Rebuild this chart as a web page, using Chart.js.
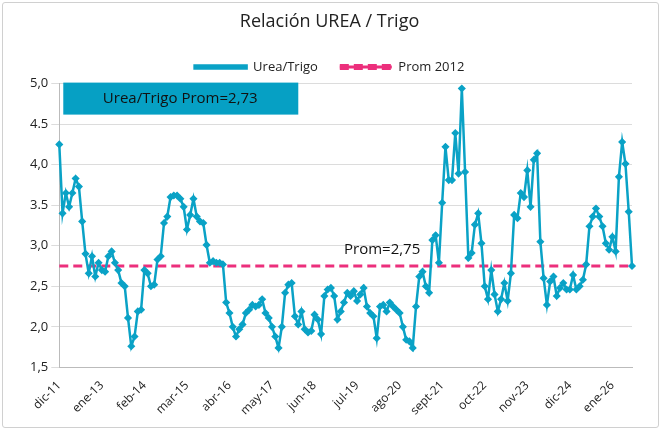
<!DOCTYPE html>
<html><head><meta charset="utf-8">
<script src="https://cdn.jsdelivr.net/npm/chart.js@4"></script>
<style>
body{margin:0;background:#fff;font-family:"Open Sans",sans-serif}
#wrap{position:absolute;left:2px;top:2px;width:655px;height:424px;border:1px solid #d0d0d0;border-radius:3px}
</style></head><body>
<div id="wrap"><canvas id="c" width="655" height="424"></canvas></div>
<script>
const tickLabels = ['dic-11','ene-13','feb-14','mar-15','abr-16','may-17','jun-18','jul-19','ago-20','sept-21','oct-22','nov-23','dic-24','ene-26'];
const ureaTrigo = [4.25,3.40,3.65,3.48,3.65,3.83,3.73,3.30,2.90,2.66,2.87,2.62,2.79,2.70,2.68,2.87,2.93,2.79,2.70,2.54,
2.50,2.11,1.76,1.88,2.19,2.21,2.70,2.66,2.50,2.52,2.83,2.87,3.28,3.36,3.60,3.62,3.62,3.58,3.48,3.20,
3.38,3.58,3.36,3.30,3.28,3.01,2.79,2.81,2.79,2.79,2.77,2.30,2.17,2.00,1.88,1.97,2.03,2.17,2.21,2.27,
2.25,2.27,2.34,2.17,2.11,2.00,1.88,1.74,2.00,2.42,2.52,2.54,2.13,2.03,2.19,1.97,1.93,1.95,2.15,2.09,
1.91,2.38,2.46,2.48,2.38,2.09,2.19,2.30,2.42,2.38,2.44,2.32,2.40,2.48,2.25,2.17,2.13,1.86,2.25,2.27,
2.19,2.30,2.25,2.21,2.17,2.00,1.84,1.82,1.74,2.25,2.62,2.68,2.50,2.42,3.07,3.13,2.79,3.53,4.22,3.81,
3.81,4.39,3.89,4.94,3.91,2.85,2.91,3.26,3.40,3.03,2.50,2.34,2.70,2.40,2.19,2.34,2.54,2.32,2.66,3.38,
3.34,3.65,3.60,3.93,3.48,4.06,4.14,3.05,2.60,2.27,2.56,2.62,2.38,2.48,2.54,2.46,2.46,2.64,2.46,2.50,
2.58,2.77,3.24,3.36,3.46,3.36,3.24,3.03,2.95,3.11,2.93,3.85,4.28,4.01,3.42,2.75];
const prom2012 = 2.75;
const promTotal = '2,73';
const yTickText = {5:'5,0',4.5:'4.5',4:'4,0',3.5:'3.5',3:'3,0',2.5:'2,5',2:'2,0',1.5:'1,5'};

// one category per month; a tick label every 13 months
const labels = ureaTrigo.map((v, i) => i % 13 === 0 ? tickLabels[i / 13] : '');

const boxes = {
  id: 'boxes',
  afterDatasetsDraw(chart) {
    const {ctx, scales: {x, y}} = chart;
    ctx.save();
    const top = y.getPixelForValue(5), l = x.getPixelForValue(0);
    ctx.fillStyle = '#06A0C4';
    ctx.fillRect(l + 4, top - 1, 235, 32);
    ctx.fillStyle = '#111';
    ctx.font = '15px "Open Sans"';
    ctx.textAlign = 'center';
    ctx.textBaseline = 'middle';
    ctx.fillText('Urea/Trigo Prom=' + promTotal, l + 4 + 117, top + 15);
    ctx.textAlign = 'left';
    ctx.fillText('Prom=2,75', x.getPixelForValue(87), y.getPixelForValue(2.95));
    ctx.restore();
  }
};

new Chart(document.getElementById('c'), {
  type: 'line',
  data: {
    labels,
    datasets: [
      {label: 'Urea/Trigo', data: ureaTrigo, borderColor: '#0AA2C6', backgroundColor: '#0AA2C6',
       borderWidth: 2.5, pointStyle: 'rectRot', pointRadius: 2.3, tension: 0},
      {label: 'Prom 2012', data: ureaTrigo.map(() => prom2012), borderColor: '#EC2F7C', backgroundColor: '#EC2F7C',
       borderWidth: 3, borderDash: [9, 5], pointRadius: 0}
    ]
  },
  options: {
    responsive: false, animation: false,
    layout: {padding: {left: 24, right: 26, top: 0, bottom: 6}},
    plugins: {
      title: {display: true, text: 'Relación UREA / Trigo', color: '#222',
              font: {size: 18, family: 'Open Sans', weight: '500'}, padding: {top: 8, bottom: 6}},
      legend: {labels: {boxWidth: 52, boxHeight: 3, color: '#222',
               font: {size: 13, family: 'Open Sans'}, padding: 22}},
      tooltip: {enabled: false}
    },
    scales: {
      x: {grid: {display: false}, border: {color: '#bbb'},
          ticks: {autoSkip: false, maxRotation: 45, minRotation: 45, color: '#222',
                  font: {size: 12, family: 'Open Sans'}}},
      y: {min: 1.5, max: 5, border: {color: '#bbb'}, grid: {color: '#dcdcdc'},
          ticks: {stepSize: 0.5, color: '#222', font: {size: 13, family: 'Open Sans'},
                  callback: v => yTickText[v]}}
    }
  },
  plugins: [boxes]
});
</script>
</body></html>
